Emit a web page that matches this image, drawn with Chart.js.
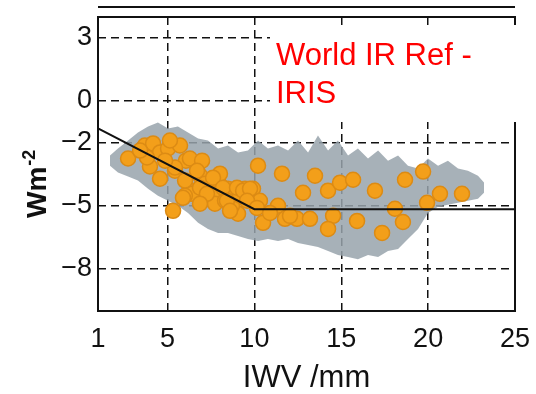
<!DOCTYPE html>
<html>
<head>
<meta charset="utf-8">
<script src="https://cdn.jsdelivr.net/npm/chart.js@4/dist/chart.umd.min.js"></script>
<style>
  html, body { margin: 0; padding: 0; background: #fff; }
  #wrap { width: 536px; height: 394px; }
</style>
</head>
<body>
<div id="wrap"><canvas id="chart" width="536" height="394"></canvas></div>
<script>
// Tick labels
const xTicks = [1, 5, 10, 15, 20, 25];
const yTicks = [3, 0, -2, -5, -8];

// Orange points (IWV mm, W m-2)
const dotX = [2.73, 3.70, 4.17, 4.57, 5.03, 5.72, 6.06, 3.99, 4.57, 5.43, 6.29, 6.87, 6.58, 7.16, 6.99,
              7.56, 7.91, 8.02, 6.41, 5.32, 8.48, 7.73, 9.06, 9.46, 9.92, 10.21, 10.32, 10.50, 11.36, 11.59,
              11.76, 12.45, 12.80, 13.20, 13.49, 14.24, 14.53, 14.24, 14.93, 15.68, 15.91, 16.94, 17.35, 18.09,
              18.55, 18.67, 19.71, 19.94, 20.68, 21.95, 8.31, 8.71, 9.17, 6.00,
              3.82, 5.43, 6.70, 6.87, 7.27, 7.62, 8.19, 8.42, 9.00, 9.35, 9.75, 9.58, 10.15, 6.87,
              5.89, 4.86, 5.14, 3.42, 6.01, 8.60, 10.90, 12.05];
const dotY = [-2.74, -2.12, -2.02, -2.45, -2.26, -2.12, -2.84, -3.12, -3.70, -3.32, -2.74, -3.55, -4.27, -3.94, -2.84,
              -4.51, -3.79, -3.46, -4.42, -5.23, -4.18, -4.89, -5.37, -4.18, -4.18, -3.08, -4.75, -5.80, -4.99, -3.46,
              -5.61, -5.61, -4.37, -5.61, -3.56, -4.27, -5.47, -6.09, -3.89, -3.75, -5.71, -4.27, -6.28, -5.13,
              -5.76, -3.75, -3.36, -4.85, -4.42, -4.42, -4.75, -4.99, -4.51, -4.51,
              -2.69, -3.17, -3.32, -4.13, -4.42, -3.65, -4.13, -4.75, -4.13, -4.27, -4.18, -4.75, -5.09, -4.89,
              -4.61, -2.84, -1.88, -2.36, -3.79, -5.23, -5.33, -5.47];

// Grey spread envelope
const bandX = [1.69, 2.15, 2.73, 3.30, 3.88, 4.45, 5.03, 5.60, 6.18, 6.76, 7.33, 7.91, 8.48, 9.06, 9.63,
               10.21, 10.78, 11.36, 11.94, 12.51, 13.09, 13.66, 14.24, 14.81, 15.39, 15.96, 16.54, 17.12, 17.69,
               18.27, 18.84, 19.42, 19.99, 20.57, 21.14, 21.72, 22.29, 22.87, 23.22];
const bandUpper = [-2.60, -2.26, -1.88, -1.50, -1.21, -1.02, -1.31, -1.21, -1.50, -1.78, -1.88, -2.26, -2.12, -2.45, -2.36,
                   -1.88, -2.26, -2.12, -2.36, -1.88, -2.45, -1.64, -2.36, -1.88, -2.60, -2.26, -2.74, -2.36, -2.84,
                   -2.60, -3.08, -3.22, -2.74, -3.08, -2.84, -3.22, -3.32, -3.56, -3.89];
const bandLower = [-3.08, -3.41, -3.60, -3.79, -4.18, -4.51, -4.75, -4.99, -5.33, -5.80, -6.09, -6.28, -6.28, -6.43, -6.57,
                   -6.67, -6.57, -6.67, -6.57, -6.76, -6.86, -6.95, -7.14, -7.33, -7.43, -7.53, -7.33, -7.43, -7.14,
                   -7.05, -6.57, -6.09, -5.33, -5.04, -4.94, -4.85, -4.75, -4.66, -4.37];

// Piecewise fit line
const fitX = [1, 10, 25];
const fitY = [-1.3, -5.15, -5.15];

const pts = (xs, ys) => xs.map((x, i) => ({ x: x, y: ys[i] }));
const FONT = '"Liberation Sans", Arial, sans-serif';

// tick labels must not push the plot box around
function noLabelPadding(s) {
    s.paddingTop = 0;
    s.paddingBottom = 0;
    s.paddingLeft = 0;
    s.paddingRight = 0;
}

const framePlugin = {
    id: 'frame',
    afterDraw(chart) {
        const ctx = chart.ctx;
        const a = chart.chartArea;
        ctx.save();
        // plot border
        ctx.strokeStyle = '#111';
        ctx.lineWidth = 2;
        ctx.setLineDash([]);
        ctx.beginPath();
        ctx.moveTo(a.left, a.top);
        ctx.lineTo(a.right, a.top);
        ctx.lineTo(a.right, a.bottom);
        ctx.lineTo(a.left, a.bottom);
        ctx.closePath();
        // extra line above the plot
        ctx.moveTo(a.left, 7);
        ctx.lineTo(a.right, 7);
        ctx.stroke();

        // x title
        ctx.fillStyle = '#111';
        ctx.font = '31px ' + FONT;
        ctx.textAlign = 'center';
        ctx.textBaseline = 'alphabetic';
        ctx.fillText('IWV /mm', (a.left + a.right) / 2, 387);

        // y title, rotated
        ctx.save();
        ctx.translate(46, 218);
        ctx.rotate(-Math.PI / 2);
        ctx.textAlign = 'left';
        ctx.font = 'bold 28px ' + FONT;
        ctx.fillText('Wm', 0, 0);
        const w = ctx.measureText('Wm').width;
        ctx.font = 'bold 18px ' + FONT;
        ctx.fillText('-2', w + 1, -11);
        ctx.restore();

        // label box
        ctx.fillStyle = '#fff';
        ctx.fillRect(270, 25, 256, 97);
        ctx.fillStyle = '#ff0000';
        ctx.font = '31px ' + FONT;
        ctx.textAlign = 'left';
        ctx.fillText('World IR Ref -', 276, 65);
        ctx.fillText('IRIS', 276, 103);
        ctx.restore();
    }
};

new Chart(document.getElementById('chart'), {
    type: 'scatter',
    data: {
        datasets: [
            {
                type: 'line',
                data: pts(fitX, fitY),
                borderColor: '#111',
                borderWidth: 2,
                pointRadius: 0,
                fill: false,
                order: 0
            },
            {
                data: pts(dotX, dotY),
                backgroundColor: '#f39f1a',
                borderColor: '#dc8b14',
                borderWidth: 1.5,
                pointRadius: 7.5,
                order: 1
            },
            {
                type: 'line',
                data: pts(bandX, bandUpper),
                borderWidth: 0,
                borderColor: 'rgba(0,0,0,0)',
                backgroundColor: 'rgba(152,163,172,0.85)',
                pointRadius: 0,
                fill: '+1',
                order: 2
            },
            {
                type: 'line',
                data: pts(bandX, bandLower),
                borderWidth: 0,
                borderColor: 'rgba(0,0,0,0)',
                pointRadius: 0,
                fill: false,
                order: 3
            }
        ]
    },
    options: {
        responsive: false,
        animation: false,
        layout: { padding: { top: 17, right: 21, left: 0, bottom: 0 } },
        plugins: {
            legend: { display: false },
            tooltip: { enabled: false }
        },
        scales: {
            x: {
                type: 'linear',
                min: 1,
                max: 25,
                afterBuildTicks: (s) => { s.ticks = xTicks.map(v => ({ value: v })); },
                afterFit: (s) => { s.height = 83; noLabelPadding(s); },
                grid: {
                    color: (c) => (c.tick && (c.tick.value === 1 || c.tick.value === 25)) ? 'rgba(0,0,0,0)' : '#111',
                    lineWidth: 1.5,
                    drawTicks: false
                },
                border: { display: false, dash: [8, 5] },
                ticks: {
                    color: '#111',
                    font: { family: FONT, size: 27 },
                    padding: 12,
                    maxRotation: 0,
                    autoSkip: false
                }
            },
            y: {
                type: 'linear',
                min: -10,
                max: 4,
                afterBuildTicks: (s) => { s.ticks = yTicks.map(v => ({ value: v })); },
                afterFit: (s) => { s.width = 98; noLabelPadding(s); },
                grid: {
                    color: '#111',
                    lineWidth: 1.5,
                    drawTicks: false
                },
                border: { display: false, dash: [8, 5] },
                ticks: {
                    color: '#111',
                    font: { family: FONT, size: 27 },
                    padding: 6,
                    autoSkip: false,
                    callback: (v) => String(v).replace('-', '\u2212')
                }
            }
        }
    },
    plugins: [framePlugin]
});
</script>
</body>
</html>
